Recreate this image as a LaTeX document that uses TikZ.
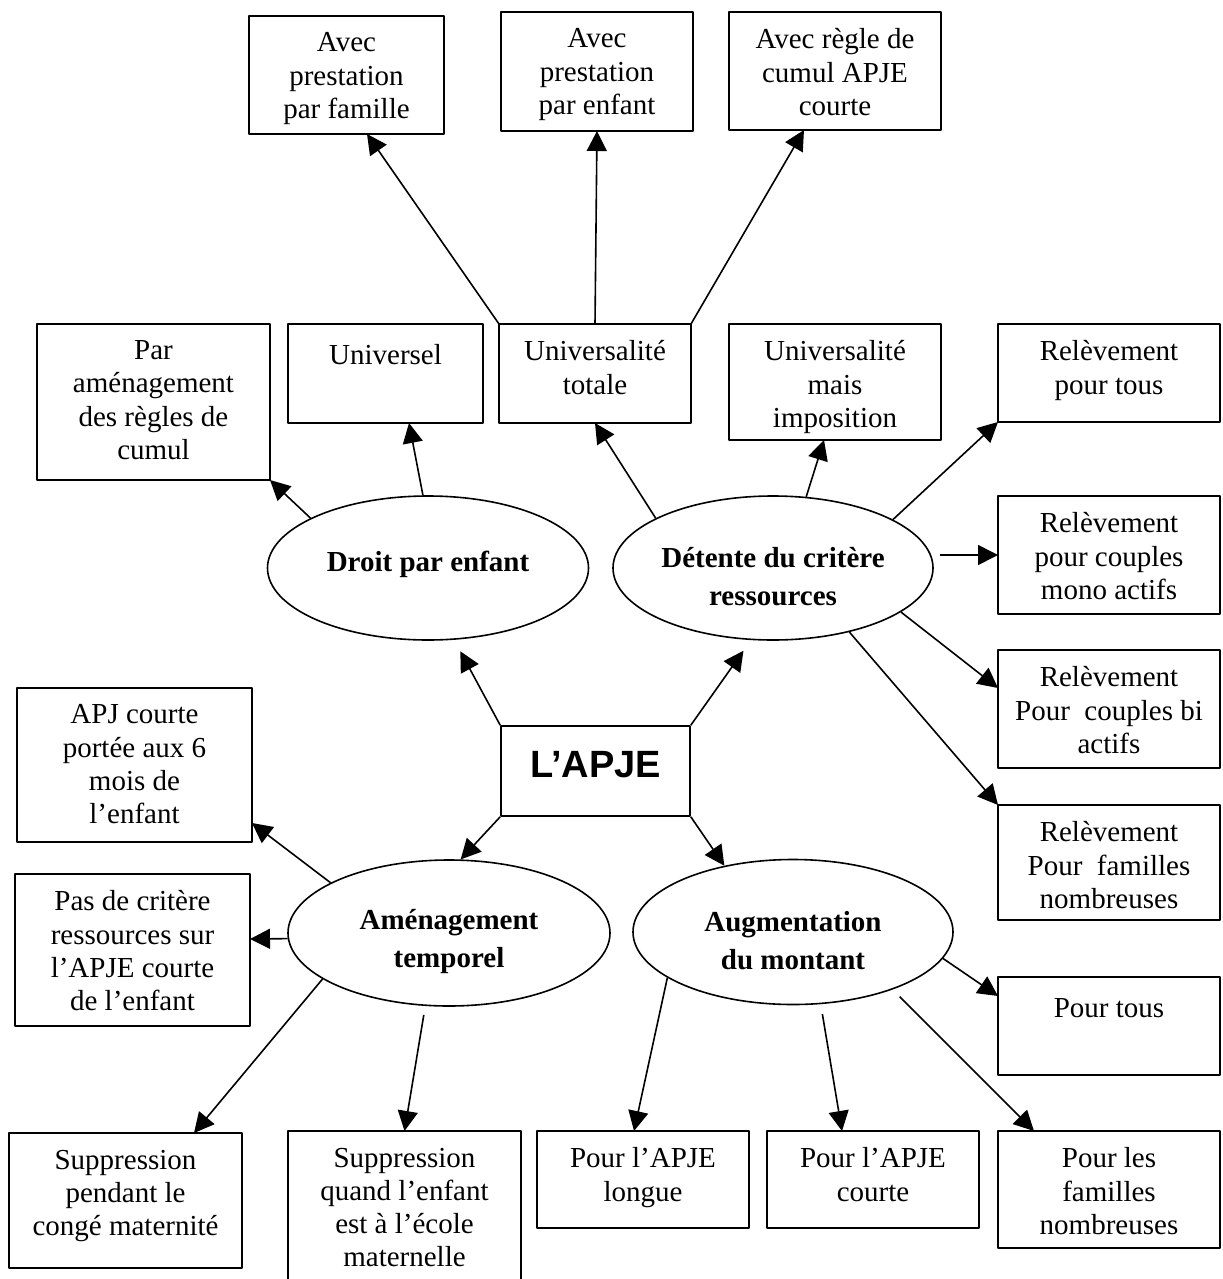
\documentclass[tikz,border=0pt]{standalone}
\usepackage{fontspec}
\setmainfont{Liberation Serif}
\newfontfamily\arialfont{Liberation Sans}
\usetikzlibrary{shapes.geometric,arrows.meta}
\newcommand\cadre[6]{%
	\node[boite, minimum width={(#4-#2)*0.5pt}, minimum height={(#5-#3)*0.5pt}] (#1) at (#2,#3) {};
	\node[texte] (#1-t) at ([yshift=-8.2pt]#1.north) {#6};}
\begin{document}
\begin{tikzpicture}[x=.5pt, y=-.5pt, line join=round, >={Triangle[length=10pt,width=10pt]},
	boite/.style={draw, line width=.8pt, anchor=north west, inner sep=0pt, outer sep=0pt},
	texte/.style={anchor=north, align=center, inner sep=0pt, font=\fontsize{14.5}{16.6}\selectfont, execute at begin node=\strut},
	bulle/.style={draw, ellipse, line width=.8pt, inner sep=0pt},
	titre/.style={align=center, inner sep=0pt, font=\fontsize{14.5}{19}\selectfont\bfseries},
	fl/.style={->, line width=.8pt}]
	\useasboundingbox (0,0) rectangle (1222,1279);
	% les bulles
	\node[bulle, minimum width=160.5pt, minimum height=72pt] (droit) at (428,568) {};
	\node[titre] (droit-t) at ([yshift=2pt]droit.center) {Droit par enfant};
	\node[bulle, minimum width=160pt, minimum height=72pt] (detente) at (773,568) {};
	\node[titre] (detente-t) at ([yshift=-4.5pt]detente.center) {D\'etente du crit\`ere\\ressources};
	\node[bulle, minimum width=161pt, minimum height=73pt] (amen) at (449,933) {};
	\node[titre] (amen-t) at ([yshift=-4.5pt]amen.center) {Am\'enagement\\temporel};
	\node[bulle, minimum width=160pt, minimum height=72.5pt] (augm) at (793,932) {};
	\node[titre] (augm-t) at ([yshift=-4.5pt]augm.center) {Augmentation\\du montant};
	\node[draw, line width=.8pt, minimum width=94.5pt, minimum height=45pt, text depth=7pt, font=\fontsize{19}{22}\selectfont\arialfont\bfseries] (apje) at (595.5,771) {L’APJE};
	% les cadres
	\cadre{fam}{249}{16}{444}{134}{Avec\\prestation\\par famille}
	\cadre{enf}{501}{12}{693}{131}{Avec\\prestation\\par enfant}
	\cadre{cum}{729}{12}{941}{130}{Avec règle de\\cumul APJE\\courte}
	\cadre{amr}{37}{324}{270}{480}{Par\\aménagement\\des règles de\\cumul}
	\cadre{uni}{288}{324}{483}{423}{Universel}
	\cadre{tot}{499}{324}{691}{423}{Universalité\\totale}
	\cadre{imp}{729}{324}{941}{440}{Universalité\\mais\\imposition}
	\cadre{rtous}{998}{324}{1220}{422}{Relèvement\\pour tous}
	\cadre{rmono}{998}{496}{1220}{614}{Relèvement\\pour couples\\mono actifs}
	\cadre{rbi}{998}{650}{1220}{768}{Relèvement\\Pour~ couples bi\\actifs}
	\cadre{rfam}{998}{805}{1220}{920}{Relèvement\\Pour~ familles\\nombreuses}
	\cadre{apj}{17}{688}{252}{842}{APJ courte\\portée aux 6\\mois de\\l’enfant}
	\cadre{crit}{15}{874}{250}{1026}{Pas de critère\\ressources sur\\l’APJE courte\\de l’enfant}
	\cadre{cong}{9}{1133}{242}{1268}{Suppression\\pendant le\\congé maternité}
	\cadre{ecole}{288}{1131}{521}{1300}{Suppression\\quand l’enfant\\est à l’école\\maternelle}
	\cadre{longue}{537}{1131}{749}{1228}{Pour l’APJE\\longue}
	\cadre{courte}{767}{1131}{979}{1228}{Pour l’APJE\\courte}
	\cadre{pnomb}{998}{1131}{1220}{1248}{Pour les\\familles\\nombreuses}
	\cadre{ptous}{998}{977}{1220}{1075}{Pour tous}
	% les fleches
	\draw[fl] (tot.north west) -- ([xshift=10.25pt]fam.south);
	\draw[fl] (tot.north) -- (enf.south);
	\draw[fl] (tot.north east) -- ([xshift=-15.5pt]cum.south);
	\draw[fl] (droit.94) -- ([xshift=11.75pt]uni.south);
	\draw[fl] (droit.157) -- (amr.south east);
	\draw[fl] (detente.157) -- (tot.south);
	\draw[fl] (detente.65) -- ([xshift=-5.5pt]imp.south);
	\draw[fl] (detente.22) -- (rtous.south west);
	\draw[fl, shorten <=3pt] (detente.east |- rmono.west) -- (rmono.west);
	\draw[fl] (detente.-19) -- ([yshift=10.5pt]rbi.west);
	\draw[fl] (detente.-40) -- (rfam.north west);
	\draw[fl, shorten >=6.5pt] (apje.north west) -- (droit.-70);
	\draw[fl, shorten >=6.5pt] (apje.north east) -- (detente.-107);
	\draw[fl] (apje.south west) -- (amen.81);
	\draw[fl] (apje.south east) -- (augm.136);
	\draw[fl] (amen.157) -- ([yshift=9.5pt]apj.south east);
	\draw[fl] (amen.182) -- ([yshift=5.5pt]crit.east);
	\draw[fl] (amen.200) -- ([xshift=34.25pt]cong.north);
	\draw[fl, shorten <=4.5pt] (amen.-108) -- (ecole.north);
	\draw[fl] (augm.200) -- ([xshift=-4.5pt]longue.north);
	\draw[fl, shorten <=5pt] (augm.-69) -- ([xshift=-15.5pt]courte.north);
	\draw[fl, shorten <=5pt] (augm.-30) -- ([xshift=18pt]pnomb.north west);
	\draw[fl] (augm.-10) -- ([yshift=-9.5pt]ptous.north west);
\end{tikzpicture}
\end{document}
